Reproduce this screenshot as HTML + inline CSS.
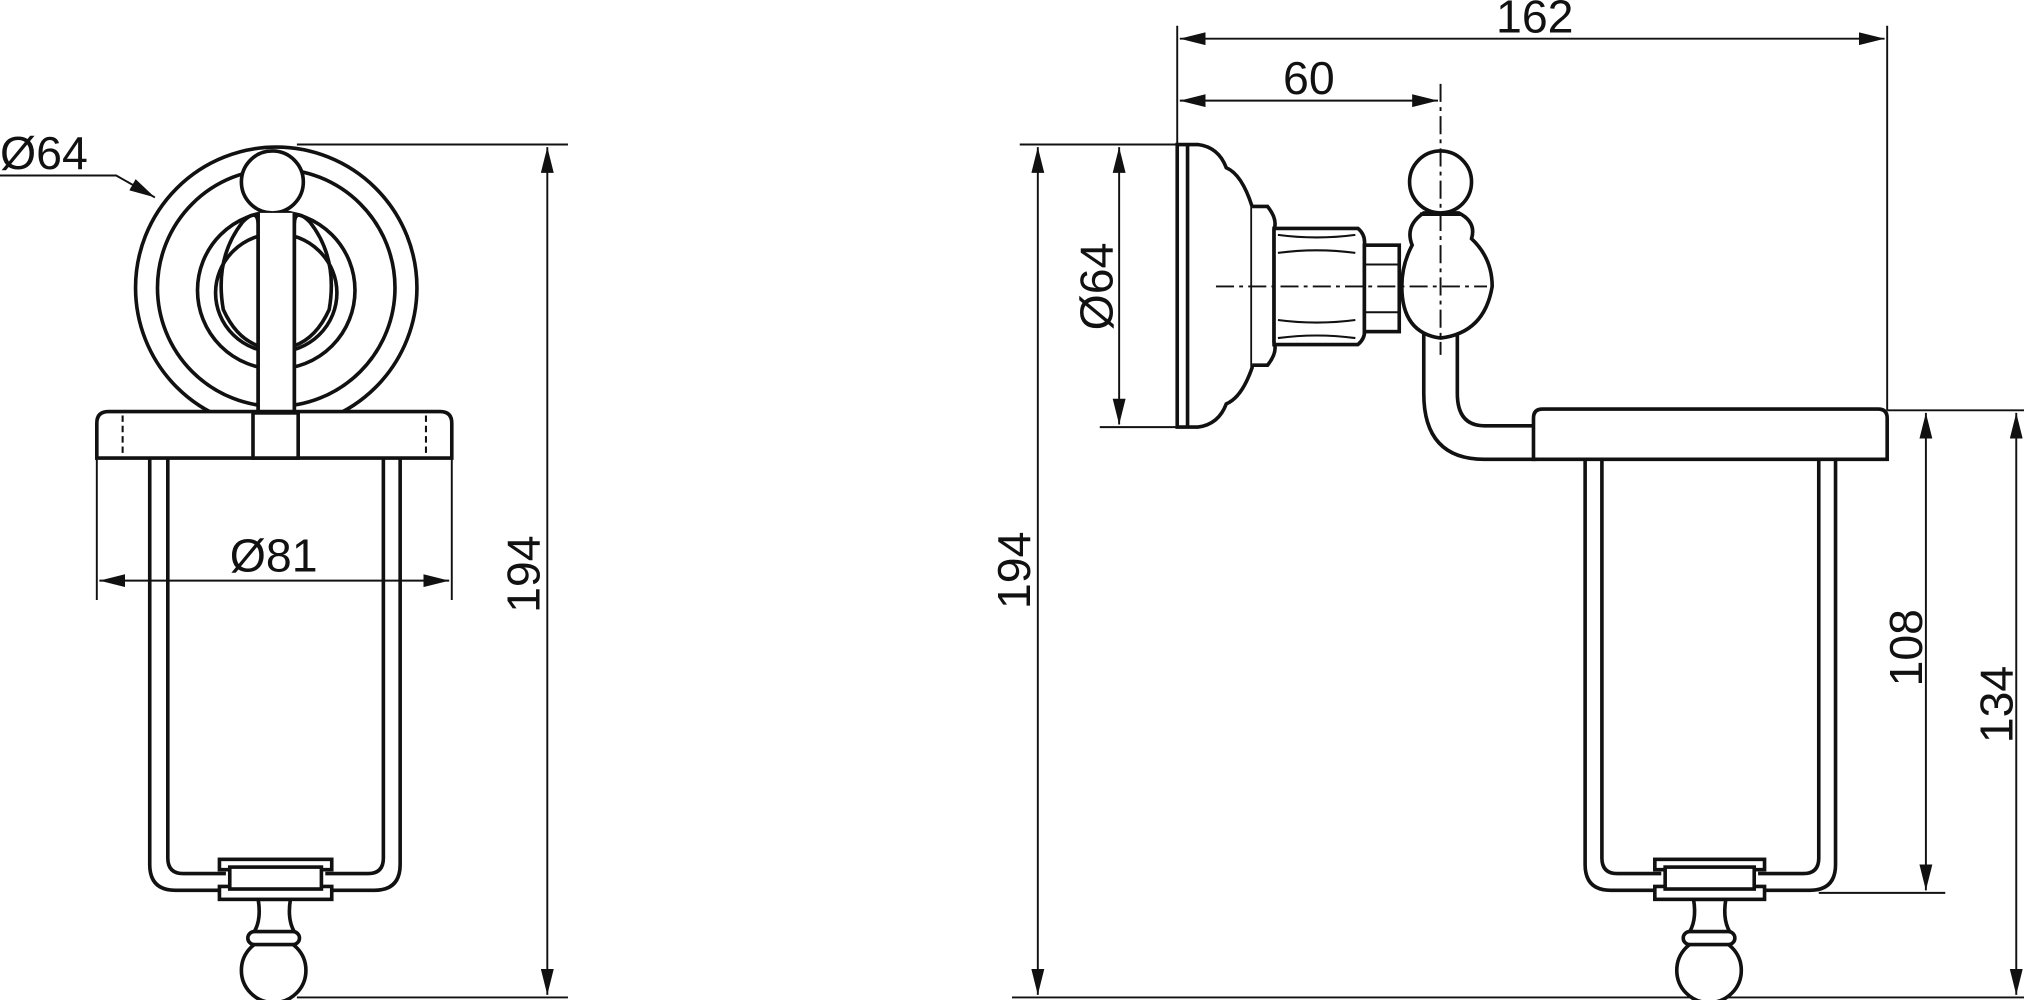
<!DOCTYPE html>
<html><head><meta charset="utf-8"><style>
html,body{margin:0;padding:0;background:#fff;}
svg{display:block;}
text{font-family:"Liberation Sans",sans-serif;fill:#111;}
</style></head><body>
<svg width="2024" height="1000" viewBox="0 0 1568 775" preserveAspectRatio="none" xmlns="http://www.w3.org/2000/svg">
<defs>
<marker id="a" markerUnits="userSpaceOnUse" markerWidth="20" markerHeight="10" refX="20" refY="5" orient="auto-start-reverse"><path d="M0,0 L20,5 L0,10 Z" fill="#111"/></marker>
</defs>
<g fill="none" stroke="#111" stroke-width="1.5">
<line x1="230" y1="112" x2="440" y2="112"/>
<line x1="230" y1="773" x2="440" y2="773"/>
<line x1="424" y1="114" x2="424" y2="771" marker-start="url(#a)" marker-end="url(#a)"/>
<line x1="75" y1="355" x2="75" y2="465"/>
<line x1="350" y1="355" x2="350" y2="465"/>
<line x1="77" y1="450" x2="348" y2="450" marker-start="url(#a)" marker-end="url(#a)"/>
<polyline points="0,136 90,136 120,153" marker-end="url(#a)"/>
<line x1="912" y1="20" x2="912" y2="112"/>
<line x1="1462" y1="20" x2="1462" y2="318"/>
<line x1="914" y1="30" x2="1460" y2="30" marker-start="url(#a)" marker-end="url(#a)"/>
<line x1="914" y1="78" x2="1114" y2="78" marker-start="url(#a)" marker-end="url(#a)"/>
<line x1="790" y1="112" x2="912" y2="112"/>
<line x1="784" y1="773" x2="1568" y2="773"/>
<line x1="804" y1="114" x2="804" y2="771" marker-start="url(#a)" marker-end="url(#a)"/>
<line x1="852" y1="331" x2="912" y2="331"/>
<line x1="867" y1="114" x2="867" y2="329" marker-start="url(#a)" marker-end="url(#a)"/>
<line x1="1462" y1="318" x2="1568" y2="318"/>
<line x1="1409" y1="692" x2="1507" y2="692"/>
<line x1="1492" y1="320" x2="1492" y2="690" marker-start="url(#a)" marker-end="url(#a)"/>
<line x1="1562" y1="320" x2="1562" y2="771" marker-start="url(#a)" marker-end="url(#a)"/>
<line x1="1116" y1="65" x2="1116" y2="115" stroke-dasharray="14,4,3,4"/>
</g>
<g fill="#fff" stroke="#111" stroke-width="2.8">
<circle cx="214" cy="223" r="109"/>
<circle cx="214" cy="223" r="92"/>
<circle cx="214" cy="225" r="61"/>
<ellipse cx="214" cy="227" rx="47" ry="46"/>
<circle cx="211" cy="141" r="24"/>
<path d="M188,172 Q200,160 200,175 L200,320 L228,320 L228,175 Q228,160 240,172 Q262,200 255,240 Q245,262 228,268 L228,175" fill="none"/>
<path d="M188,172 Q166,200 173,240 Q183,262 200,268" fill="none"/>
<rect x="200" y="165" width="28" height="155" stroke="none"/>
<line x1="200" y1="165" x2="200" y2="320"/><line x1="228" y1="165" x2="228" y2="320"/>
<path d="M116,355 L116,670 Q116,690 136,690 L170,690 M130,355 L130,665 Q130,677 142,677 L175,677" fill="none"/>
<path d="M310,355 L310,670 Q310,690 290,690 L257,690 M297,355 L297,665 Q297,677 285,677 L252,677" fill="none"/>
<path d="M75,355 L75,328 Q75,319 84,319 L341,319 Q350,319 350,328 L350,355 Z"/>
<line x1="95" y1="322" x2="95" y2="352" stroke-dasharray="5,3" stroke-width="1.6"/>
<line x1="330" y1="322" x2="330" y2="352" stroke-dasharray="5,3" stroke-width="1.6"/>
<rect x="196" y="320" width="35" height="35"/>
<path d="M200,697 Q203,715 195,725 L230,725 Q222,715 225,697 Z"/>
<circle cx="212" cy="752" r="25"/>
<rect x="192" y="722" width="40" height="10" rx="5"/>
<rect x="170" y="666" width="87" height="8"/>
<rect x="170" y="687" width="87" height="10"/>
<rect x="178" y="672" width="71" height="17"/>
<path d="M1103,250 L1103,305 Q1103,356 1150,356 L1189,356 L1189,330 L1150,330 Q1129,330 1129,305 L1129,250"/>
<path d="M1188,356 L1188,324 Q1188,317 1195,317 L1455,317 Q1462,317 1462,324 L1462,356 Z"/>
<path d="M1228,356 L1228,670 Q1228,690 1248,690 L1282,690 M1241,356 L1241,665 Q1241,677 1253,677 L1287,677" fill="none"/>
<path d="M1422,356 L1422,670 Q1422,690 1402,690 L1367,690 M1409,356 L1409,665 Q1409,677 1397,677 L1362,677" fill="none"/>
<path d="M1312,697 Q1315,715 1307,725 L1342,725 Q1334,715 1337,697 Z"/>
<circle cx="1324" cy="752" r="25"/>
<rect x="1304" y="722" width="40" height="10" rx="5"/>
<rect x="1282" y="666" width="85" height="8"/>
<rect x="1282" y="687" width="85" height="10"/>
<rect x="1290" y="672" width="69" height="17"/>
<path d="M912,112 L928,112 Q944,114 950,130 Q962,135 970,160 L970,285 Q962,308 950,313 Q944,329 928,331 L912,331 Z"/>
<line x1="920" y1="112" x2="920" y2="331"/>
<path d="M970,160 L982,160 Q990,170 987,178 L987,265 Q990,273 982,283 L970,283"/>
<path d="M987,177 L1052,177 Q1058,182 1057,190 L1057,255 Q1058,262 1052,267 L987,267 Z"/>
<path d="M990,182 Q1020,186 1050,182 M990,196 Q1020,192 1050,196 M990,248 Q1020,252 1050,248 M990,262 Q1020,258 1050,262" fill="none" stroke-width="1.6"/>
<rect x="1057" y="190" width="27" height="67"/>
<line x1="1057" y1="205" x2="1084" y2="205" stroke-width="1.6"/>
<line x1="1057" y1="242" x2="1084" y2="242" stroke-width="1.6"/>
<path d="M1103,165 Q1088,175 1094,190 Q1086,205 1086,222 Q1086,258 1116,262 Q1150,258 1156,222 Q1156,200 1140,185 Q1144,172 1130,165 Z"/>
<circle cx="1116" cy="141" r="24"/>
<line x1="1100" y1="166" x2="1132" y2="166"/>
</g>
<line x1="1116" y1="115" x2="1116" y2="275" stroke="#111" stroke-width="1.5" stroke-dasharray="14,4,3,4"/>
<line x1="942" y1="222" x2="1152" y2="222" stroke="#111" stroke-width="1.5" stroke-dasharray="14,4,3,4"/>
<g font-size="36">
<text x="0" y="131">Ø64</text>
<text x="212" y="443" text-anchor="middle">Ø81</text>
<text transform="translate(418,445) rotate(-90)" text-anchor="middle">194</text>
<text x="1189" y="25" text-anchor="middle">162</text>
<text x="1014" y="73" text-anchor="middle">60</text>
<text transform="translate(798,442) rotate(-90)" text-anchor="middle">194</text>
<text transform="translate(862,222) rotate(-90)" text-anchor="middle">Ø64</text>
<text transform="translate(1489,502) rotate(-90)" text-anchor="middle">108</text>
<text transform="translate(1559,546) rotate(-90)" text-anchor="middle">134</text>
</g>
</svg>
</body></html>
